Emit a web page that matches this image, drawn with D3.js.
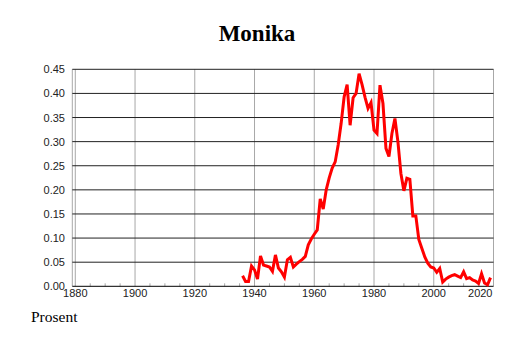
<!DOCTYPE html>
<html>
<head>
<meta charset="utf-8">
<script src="https://cdn.jsdelivr.net/npm/d3@7"></script>
<style>
  body { margin: 0; background: #fff; }
  svg { display: block; }
</style>
</head>
<body>
<div id="chart"></div>
<script>
(function() {
  var width = 514,
      height = 343;

  // share of newborn girls named Monika, percent
  var years = [1936, 1937, 1938, 1939, 1940, 1941, 1942, 1943, 1944, 1945,
    1946, 1947, 1948, 1949, 1950, 1951, 1952, 1953, 1954, 1955,
    1956, 1957, 1958, 1959, 1960, 1961, 1962, 1963, 1964, 1965,
    1966, 1967, 1968, 1969, 1970, 1971, 1972, 1973, 1974, 1975,
    1976, 1977, 1978, 1979, 1980, 1981, 1982, 1983, 1984, 1985,
    1986, 1987, 1988, 1989, 1990, 1991, 1992, 1993, 1994, 1995,
    1996, 1997, 1998, 1999, 2000, 2001, 2002, 2003, 2004, 2005,
    2006, 2007, 2008, 2009, 2010, 2011, 2012, 2013, 2014, 2015,
    2016, 2017, 2018, 2019];
  var values = [0.022, 0.010, 0.010, 0.042, 0.034, 0.015, 0.063, 0.044, 0.042, 0.040,
    0.031, 0.065, 0.038, 0.030, 0.019, 0.055, 0.060, 0.040, 0.046, 0.051,
    0.056, 0.062, 0.086, 0.098, 0.108, 0.117, 0.181, 0.160, 0.200, 0.225,
    0.245, 0.258, 0.293, 0.338, 0.393, 0.418, 0.334, 0.391, 0.400, 0.441,
    0.418, 0.392, 0.369, 0.381, 0.324, 0.317, 0.417, 0.379, 0.286, 0.269,
    0.317, 0.348, 0.300, 0.234, 0.198, 0.224, 0.222, 0.146, 0.146, 0.097,
    0.079, 0.061, 0.048, 0.040, 0.038, 0.029, 0.037, 0.009, 0.015, 0.019,
    0.022, 0.024, 0.021, 0.018, 0.030, 0.016, 0.018, 0.013, 0.011, 0.006,
    0.026, 0.007, 0.003, 0.018];

  var xTicks = [1880, 1900, 1920, 1940, 1960, 1980, 2000, 2020];
  var xMinor = d3.range(1885, 2020, 5);
  var yTicks = [0, 0.05, 0.10, 0.15, 0.20, 0.25, 0.30, 0.35, 0.40, 0.45];

  var data = years.map(function(y, i) { return { year: y, value: values[i] }; });

  var svg = d3.select("#chart")
    .append("svg")
    .attr("width", width)
    .attr("height", height);

  var x = d3.scaleLinear().domain([1879, 2020]).range([72.3, 493.5]);
  var y = d3.scaleLinear().domain([0, 0.45]).range([286.3, 69.3]);

  var x0 = x.range()[0], x1 = x.range()[1];

  // title
  svg.append("text")
    .attr("x", width / 2)
    .attr("y", 41)
    .attr("text-anchor", "middle")
    .attr("font-family", "'Liberation Serif', 'Times New Roman', serif")
    .attr("font-weight", "bold")
    .attr("font-size", 23)
    .text("Monika");

  // vertical grid (grey)
  svg.selectAll(".vgrid")
    .data(xTicks)
    .enter().append("line")
    .attr("class", "vgrid")
    .attr("x1", function(d) { return x(d); })
    .attr("x2", function(d) { return x(d); })
    .attr("y1", y(0.45))
    .attr("y2", y(0))
    .attr("stroke", "#a8a8a8")
    .attr("stroke-width", 1);

  // left frame
  svg.append("line")
    .attr("x1", x0).attr("x2", x0)
    .attr("y1", y(0.45)).attr("y2", y(0))
    .attr("stroke", "#a8a8a8");

  // minor ticks on the year axis
  svg.selectAll(".minor")
    .data(xMinor.filter(function(d) { return d % 20 != 0; }))
    .enter().append("line")
    .attr("class", "minor")
    .attr("x1", function(d) { return x(d); })
    .attr("x2", function(d) { return x(d); })
    .attr("y1", y(0) - 3)
    .attr("y2", y(0))
    .attr("stroke", "#a8a8a8");

  // horizontal grid
  svg.selectAll(".hgrid")
    .data(yTicks)
    .enter().append("line")
    .attr("class", "hgrid")
    .attr("x1", x0)
    .attr("x2", x1)
    .attr("y1", function(d) { return y(d); })
    .attr("y2", function(d) { return y(d); })
    .attr("stroke", function(d) { return d == 0 ? "#000" : "#222"; })
    .attr("stroke-width", 1);

  // y labels
  svg.selectAll(".ylab")
    .data(yTicks)
    .enter().append("text")
    .attr("class", "ylab")
    .attr("x", 65)
    .attr("y", function(d) { return y(d) + 4; })
    .attr("text-anchor", "end")
    .attr("font-family", "'Liberation Sans', Arial, sans-serif")
    .attr("font-size", 11)
    .attr("fill", "#222")
    .text(function(d) { return d3.format(".2f")(d); });

  // x labels
  svg.selectAll(".xlab")
    .data(xTicks)
    .enter().append("text")
    .attr("class", "xlab")
    .attr("x", function(d, i) { return i == xTicks.length - 1 ? x1 - 1 : x(d); })
    .attr("y", 297)
    .attr("text-anchor", function(d, i) { return i == xTicks.length - 1 ? "end" : "middle"; })
    .attr("font-family", "'Liberation Sans', Arial, sans-serif")
    .attr("font-size", 11)
    .attr("fill", "#222")
    .text(function(d) { return d; });

  // the series
  var line = d3.line()
    .x(function(d) { return x(d.year); })
    .y(function(d) { return y(d.value); });

  svg.append("path")
    .datum(data)
    .attr("d", line)
    .attr("fill", "none")
    .attr("stroke", "#ff0000")
    .attr("stroke-width", 3)
    .attr("stroke-linejoin", "miter");

  svg.append("text")
    .attr("x", 31)
    .attr("y", 322)
    .attr("font-family", "'Liberation Serif', 'Times New Roman', serif")
    .attr("font-size", 15.5)
    .text("Prosent");
})()
</script>
</body>
</html>
